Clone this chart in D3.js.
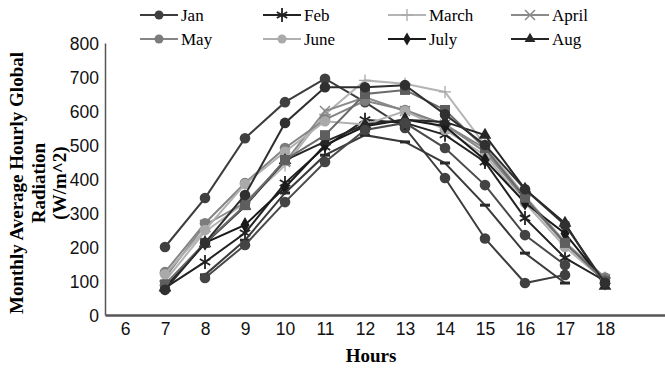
<!DOCTYPE html>
<html>
<head>
<meta charset="utf-8">
<script src="https://cdn.jsdelivr.net/npm/d3@7"></script>
<style>
  body { margin: 0; background: #fff; }
  svg { display: block; font-family: "Liberation Serif", "Times New Roman", serif; }
  .axis text { fill: #111; }
</style>
</head>
<body>
<div id="chart"></div>
<script>
// hours shown on the category axis
const hours = [6, 7, 8, 9, 10, 11, 12, 13, 14, 15, 16, 17, 18];
const yTicks = [0, 100, 200, 300, 400, 500, 600, 700, 800];
// hours that carry data points
const hourPts = [7, 8, 9, 10, 11, 12, 13, 14, 15, 16, 17, 18];

const seriesNames = ["Jan", "Feb", "March", "April", "May", "June", "July", "Aug", "Sep", "Oct", "Nov", "Dec"];
const jan   = [200, 344, 520, 626, 695, 626, 550, 403, 225, 94, 118, null];
const feb   = [80, 156, 241, 388, 494, 574, 565, 530, 450, 285, 168, 100];
const march = [100, 245, 330, 440, 590, 690, 680, 656, 500, 350, 215, 110];
const april = [110, 265, 330, 450, 600, 640, 600, 560, 480, 340, 210, 105];
const may   = [126, 270, 388, 491, 575, 630, 603, 560, 490, 345, 210, 110];
const june  = [120, 250, 385, 480, 570, 560, 600, 545, 470, 330, 200, 100];
const july  = [80, 212, 265, 375, 500, 555, 575, 555, 456, 330, 240, 95];
const aug   = [80, 210, 320, 455, 510, 560, 574, 568, 529, 370, 270, 85];
const sep   = [90, 212, 323, 456, 529, 650, 662, 603, 491, 345, 212, 100];
const oct   = [74, 212, 353, 565, 670, 670, 676, 590, 500, 370, 265, 95];
const nov   = [null, 118, 220, 359, 470, 529, 509, 447, 323, 182, 94, null];
const dec   = [null, 109, 206, 332, 450, 544, 565, 491, 382, 235, 147, null];
const allValues = [jan, feb, march, april, may, june, july, aug, sep, oct, nov, dec];

// look of each series (legend only lists the first eight)
const styles = [
  { marker: "circle",   line: "#3c3c3c", fill: "#404040" },
  { marker: "star",     line: "#222",    fill: "#222" },
  { marker: "plus",     line: "#b4b4b4", fill: "#a8a8a8" },
  { marker: "cross",    line: "#8a8a8a", fill: "#8a8a8a" },
  { marker: "circle",   line: "#858585", fill: "#7c7c7c" },
  { marker: "circle",   line: "#b0b0b0", fill: "#aaaaaa" },
  { marker: "diamond",  line: "#1a1a1a", fill: "#1a1a1a" },
  { marker: "triangle", line: "#262626", fill: "#262626" },
  { marker: "square",   line: "#6a6a6a", fill: "#5e5e5e" },
  { marker: "circle",   line: "#2e2e2e", fill: "#303030" },
  { marker: "dash",     line: "#3a3a3a", fill: "#2a2a2a" },
  { marker: "circle",   line: "#4a4a4a", fill: "#444" }
];

const width = 665, height = 370;
const margin = { top: 43, right: 0, bottom: 55, left: 105 };

const svg = d3.select("#chart").append("svg")
  .attr("width", width)
  .attr("height", height);

const x = d3.scaleLinear()
  .domain([5.5, 19.5])
  .range([margin.left, width - margin.right]);

const y = d3.scaleLinear()
  .domain([0, 800])
  .range([height - margin.bottom, margin.top]);

// axes
const yAxis = svg.append("g")
  .attr("class", "axis")
  .attr("transform", "translate(" + margin.left + ",0)")
  .call(d3.axisLeft(y).tickValues(yTicks).tickSize(0).tickSizeOuter(0).tickPadding(6));
yAxis.select(".domain").attr("stroke", "#555").attr("stroke-width", 1.5);
yAxis.selectAll("text").style("font-size", "17.5px").attr("dy", "0.36em");

const xAxis = svg.append("g")
  .attr("class", "axis")
  .attr("transform", "translate(0," + (height - margin.bottom) + ")")
  .call(d3.axisBottom(x).tickValues(hours).tickSize(0).tickSizeOuter(0).tickPadding(8));
xAxis.select(".domain").attr("stroke", "#555").attr("stroke-width", 2.5);
xAxis.selectAll("text").style("font-size", "17.5px");

// axis titles
svg.append("text")
  .attr("x", x(12) + 6)
  .attr("y", 362)
  .attr("text-anchor", "middle")
  .style("font-size", "19px")
  .style("font-weight", "bold")
  .text("Hours");

const yTitle = svg.append("text")
  .attr("transform", "translate(17,183) rotate(-90)")
  .attr("text-anchor", "middle")
  .style("font-size", "19px")
  .style("font-weight", "bold");
["Monthly Average Hourly Global", "Radiation", "(W/m^2)"].forEach((t, i) => {
  yTitle.append("tspan")
    .attr("x", 0)
    .attr("y", i * 21.5 + 6)
    .text(t);
});

// marker drawing
function drawMarker(g, type, cx, cy, st, s) {
  s = s || 1;
  if (type === "circle") {
    g.append("circle").attr("cx", cx).attr("cy", cy).attr("r", 5.3 * s)
      .attr("fill", st.fill);
  } else if (type === "square") {
    g.append("rect").attr("x", cx - 5 * s).attr("y", cy - 5 * s).attr("width", 10 * s).attr("height", 10 * s)
      .attr("fill", st.fill);
  } else if (type === "diamond") {
    g.append("path").attr("d", d3.symbol(d3.symbolDiamond, 70 * s * s)())
      .attr("transform", "translate(" + cx + "," + cy + ")").attr("fill", st.fill);
  } else if (type === "triangle") {
    g.append("path").attr("d", d3.symbol(d3.symbolTriangle, 70 * s * s)())
      .attr("transform", "translate(" + cx + "," + cy + ")").attr("fill", st.fill);
  } else if (type === "dash") {
    g.append("rect").attr("x", cx - 5).attr("y", cy - 1.5).attr("width", 10).attr("height", 3)
      .attr("fill", st.fill);
  } else if (type === "plus") {
    g.append("path").attr("d", "M" + (cx - 6) + "," + cy + "H" + (cx + 6) + "M" + cx + "," + (cy - 6) + "V" + (cy + 6))
      .attr("stroke", st.fill).attr("stroke-width", 1.3).attr("fill", "none");
  } else if (type === "cross") {
    g.append("path").attr("d", "M" + (cx - 5) + "," + (cy - 5) + "L" + (cx + 5) + "," + (cy + 5) + "M" + (cx - 5) + "," + (cy + 5) + "L" + (cx + 5) + "," + (cy - 5))
      .attr("stroke", st.fill).attr("stroke-width", 1.5).attr("fill", "none");
  } else if (type === "star") {
    let d = "M" + cx + "," + (cy - 7) + "V" + (cy + 7);
    [30, 150].forEach(a => {
      const r = a * Math.PI / 180;
      d += "M" + (cx - 6 * Math.cos(r)) + "," + (cy - 6 * Math.sin(r)) + "L" + (cx + 6 * Math.cos(r)) + "," + (cy + 6 * Math.sin(r));
    });
    g.append("path").attr("d", d).attr("stroke", st.fill).attr("stroke-width", 1.8).attr("fill", "none");
  }
}

const line = d3.line()
  .defined(d => d.v !== null)
  .x(d => x(d.h))
  .y(d => y(d.v));

allValues.forEach((vals, i) => {
  const st = styles[i];
  const pts = hourPts.map((h, j) => ({ h: h, v: vals[j] }));
  const g = svg.append("g").attr("class", "series");
  g.append("path")
    .datum(pts)
    .attr("fill", "none")
    .attr("stroke", st.line)
    .attr("stroke-width", 2)
    .attr("d", line);
  pts.filter(d => d.v !== null).forEach(d => drawMarker(g, st.marker, x(d.h), y(d.v), st));
});

// legend, 4 columns x 2 rows
const legendX = [140, 263, 388, 511];
const legendY = [15, 39];
const legend = svg.append("g").attr("class", "legend");
seriesNames.slice(0, 8).forEach((name, i) => {
  const st = styles[i];
  const lx = legendX[i % 4], ly = legendY[Math.floor(i / 4)];
  legend.append("line")
    .attr("x1", lx).attr("x2", lx + 38)
    .attr("y1", ly).attr("y2", ly)
    .attr("stroke", st.line).attr("stroke-width", 2);
  drawMarker(legend, st.marker, lx + 19, ly, st, 0.85);
  legend.append("text")
    .attr("x", lx + 41)
    .attr("y", ly)
    .attr("dy", "0.35em")
    .style("font-size", "17px")
    .text(name);
});
</script>
</body>
</html>
